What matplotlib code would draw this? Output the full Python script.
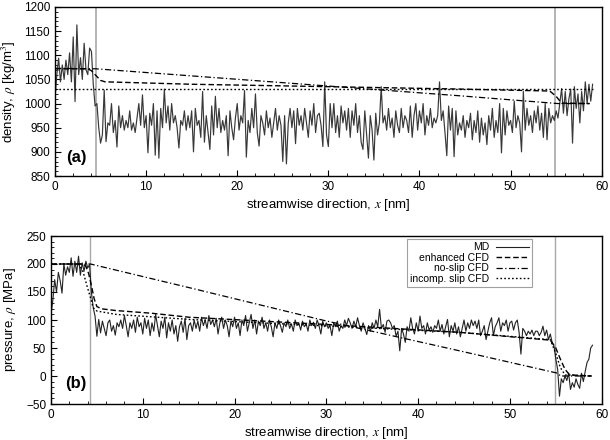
import numpy as np
import matplotlib
matplotlib.use("Agg")
from matplotlib import pyplot as plt
from matplotlib.ticker import MultipleLocator

plt.rcParams['font.family'] = ['Liberation Sans', 'DejaVu Sans']
plt.rcParams['mathtext.fontset'] = 'stix'

# MD samples, spacing 0.2 nm starting at x = 0
dx_md = 0.2
rho_md = [
    1010, 1060, 1094, 1045, 1080, 1050, 1090, 1060, 1105, 1045,
    1138, 1004, 1163, 1060, 1095, 1050, 1125, 1070, 1060, 1115,
    1108, 1040, 995, 1000, 950, 918, 935, 1028, 921, 960,
    955, 1000, 940, 965, 910, 995, 950, 975, 945, 965,
    950, 985, 945, 960, 940, 970, 1000, 955, 1018, 950,
    975, 898, 980, 955, 1000, 893, 985, 887, 990, 950,
    1030, 960, 995, 945, 1000, 960, 975, 950, 908, 965,
    955, 985, 945, 975, 950, 985, 900, 990, 955, 965,
    930, 1025, 920, 975, 940, 905, 995, 935, 1015, 950,
    990, 940, 965, 945, 975, 892, 985, 950, 925, 970,
    1000, 945, 975, 960, 1027, 889, 965, 940, 990, 950,
    1020, 940, 912, 975, 960, 935, 985, 950, 970, 930,
    960, 990, 945, 975, 955, 880, 975, 875, 960, 990,
    950, 985, 917, 990, 955, 975, 945, 990, 960, 930,
    985, 955, 1000, 940, 975, 980, 955, 911, 1045, 935,
    911, 1000, 950, 1000, 940, 975, 930, 995, 960, 985,
    945, 990, 930, 985, 955, 1000, 940, 975, 920, 905,
    985, 935, 887, 975, 945, 883, 980, 935, 960, 1035,
    960, 975, 945, 990, 950, 970, 930, 985, 955, 940,
    990, 950, 975, 965, 940, 995, 930, 975, 1000, 945,
    985, 960, 1000, 935, 975, 955, 990, 950, 970, 960,
    975, 1045, 965, 985, 940, 892, 995, 945, 990, 890,
    985, 935, 960, 945, 975, 930, 965, 950, 980, 925,
    965, 940, 985, 920, 970, 935, 960, 915, 975, 945,
    990, 930, 965, 940, 1000, 898, 990, 935, 985, 955,
    965, 940, 1005, 950, 975, 960, 900, 1025, 945, 990,
    955, 975, 940, 985, 960, 995, 945, 980, 930, 1000,
    925, 990, 960, 975, 965, 985, 970, 1000, 1031, 980,
    1025, 975, 1010, 1030, 918, 1035, 990, 1020, 960, 1025,
    985, 1045, 1000, 1040, 1005, 1040,
]
p_md = [
    110, 135, 172, 150, 185, 170, 148, 200, 180, 195,
    185, 211, 178, 205, 185, 214, 180, 202, 187, 205,
    193, 199, 150, 122, 107, 71, 101, 77, 98, 85,
    72, 95, 100, 80, 90, 73, 95, 88, 100, 85,
    108, 90, 70, 95, 85, 100, 78, 105, 88, 95,
    75, 103, 85, 100, 72, 95, 80, 110, 90, 70,
    98, 85, 105, 68, 95, 80, 100, 75, 90, 62,
    88, 98, 78, 103, 65, 90, 95, 80, 100, 85,
    98, 80, 105, 90, 100, 85, 108, 92, 100, 88,
    103, 75, 95, 105, 85, 100, 90, 70, 98, 88,
    105, 85, 95, 72, 100, 90, 108, 80, 95, 110,
    85, 100, 75, 98, 90, 105, 85, 95, 80, 100,
    88, 70, 95, 85, 100, 90, 78, 95, 88, 100,
    85, 93, 80, 100, 90, 95, 82, 98, 88, 93,
    80, 100, 90, 96, 85, 100, 90, 75, 98, 88,
    95, 85, 90, 72, 95, 88, 98, 80, 90, 85,
    100, 90, 103, 95, 85, 98, 88, 104, 90, 80,
    95, 85, 74, 90, 80, 95, 85, 100, 88, 119,
    85, 92, 78, 98, 100, 95, 85, 90, 71, 80,
    45, 85, 75, 60, 88, 80, 104, 85, 75, 95,
    80, 107, 85, 90, 75, 95, 82, 88, 78, 90,
    85, 100, 80, 92, 75, 88, 101, 70, 90, 80,
    95, 75, 88, 70, 85, 100, 80, 95, 85, 100,
    90, 98, 85, 100, 72, 80, 90, 65, 80, 95,
    104, 72, 88, 95, 104, 80, 95, 90, 100, 80,
    95, 98, 82, 95, 100, 78, 39, 85, 80, 72,
    80, 75, 82, 72, 80, 80, 72, 78, 89, 72,
    82, 65, 75, 60, 54, 30, 12, -36, -5, -12,
    0, -8, 5, -24, -12, -20, -5, -15, -22, 5,
    -10, 8, 24, 30, 50, 55,
]

# CFD curves (knots)
enh_x_a = [0, 3.6, 4.0, 4.5, 5.0, 5.5, 15, 30, 44.5, 54.3, 55.0, 55.6, 58.7]
enh_rho = [1072, 1072, 1068, 1058, 1048, 1045, 1040, 1035, 1030, 1026, 1015, 1001, 1000]
ns_x_a = [0, 4.5, 44.5, 55.2, 58.7]
ns_rho = [1073, 1072, 1016, 1000, 1000]
inc_x_a = [0, 59.0]
inc_rho = [1030, 1030]

enh_x_b = [0, 3.5, 3.8, 4.1, 4.4, 4.7, 5.0, 5.5, 7, 11, 15, 30, 44.5, 54.4, 55.0, 55.5, 56.0, 56.5, 58.9]
enh_p = [200, 200, 196, 183, 162, 138, 124, 120, 117, 112, 105, 92, 78, 64, 50, 30, 12, 2, 0]
ns_x_b = [0, 4.3, 15.5, 29.8, 44.5, 55.2, 55.5, 58.9]
ns_p = [200, 200, 156, 99, 45, 5, 0, 0]
inc_x_b = [0, 3.0, 3.5, 3.9, 4.3, 4.6, 5.0, 7.1, 15.1, 28, 44.5, 54.4, 55.0, 55.5, 56.0, 58.9]
inc_p = [200, 200, 186, 162, 140, 122, 116, 110, 101, 91, 78, 65, 40, 15, 2, 0]

inlet_a, outlet_a = 4.5, 54.9
inlet_b, outlet_b = 4.3, 54.9

x_md = np.arange(len(rho_md)) * dx_md

fig = plt.figure(figsize=(6.1, 4.4), dpi=100)
ax1 = fig.add_axes([55 / 610, 1 - 176 / 440, 546.7 / 610, 169 / 440])
ax2 = fig.add_axes([51 / 610, 1 - 404 / 440, 550.7 / 610, 168 / 440])

dash = (0, (4, 2))
dashdot = (0, (5, 2, 1, 2))
dots = (0, (1.2, 1.6))


def style(ax, ylo, yhi):
    ax.set_xlim(0, 60)
    ax.set_ylim(ylo, yhi)
    ax.xaxis.set_major_locator(MultipleLocator(10))
    ax.xaxis.set_minor_locator(MultipleLocator(2))
    ax.yaxis.set_major_locator(MultipleLocator(50))
    ax.yaxis.set_minor_locator(MultipleLocator(10))
    ax.tick_params(which='both', direction='in', labelsize=8.5, top=False, right=False)
    ax.tick_params(which='major', length=4.5, width=0.8)
    ax.tick_params(which='minor', length=2.5, width=0.6)
    for s in ax.spines.values():
        s.set_linewidth(1.0)
    ax.set_xlabel('streamwise direction, $x$ [nm]', fontsize=9.5, labelpad=3)


ax1.axvline(inlet_a, color='#a8a8a8', lw=1.2)
ax1.axvline(outlet_a, color='#a8a8a8', lw=1.2)
ax1.plot(x_md, rho_md, color='#383838', lw=0.85)
ax1.plot(enh_x_a, enh_rho, color='black', lw=1.0, linestyle=dash)
ax1.plot(ns_x_a, ns_rho, color='black', lw=0.9, linestyle=dashdot)
ax1.plot(inc_x_a, inc_rho, color='black', lw=1.0, linestyle=dots)
style(ax1, 850, 1200)
ax1.set_ylabel('density, $\\rho$ [kg/m$^3$]', fontsize=9.5)
ax1.yaxis.set_label_coords(-0.067, 0.5)
ax1.text(1.2, 880, '(a)', fontsize=12, fontweight='bold')

ax2.axvline(inlet_b, color='#a8a8a8', lw=1.0)
ax2.axvline(outlet_b, color='#a8a8a8', lw=1.0)
ax2.plot(x_md, p_md, color='#222222', lw=0.8, label='MD')
ax2.plot(enh_x_b, enh_p, color='black', lw=1.0, linestyle=dash, label='enhanced CFD')
ax2.plot(ns_x_b, ns_p, color='black', lw=0.9, linestyle=dashdot, label='no-slip CFD')
ax2.plot(inc_x_b, inc_p, color='black', lw=1.0, linestyle=dots, label='incomp. slip CFD')
style(ax2, -50, 250)
ax2.set_ylabel('pressure, $\\rho$ [MPa]', fontsize=9.5)
ax2.yaxis.set_label_coords(-0.060, 0.5)
ax2.text(1.5, -22, '(b)', fontsize=12, fontweight='bold')
leg = ax2.legend(loc='upper right', bbox_to_anchor=(0.8734, 0.982), fontsize=7.5,
                 markerfirst=False, fancybox=False, frameon=True, handlelength=3.2,
                 borderpad=0.3, labelspacing=0.05, handletextpad=0.6, borderaxespad=0)
leg.get_frame().set_edgecolor('#888888')
leg.get_frame().set_linewidth(0.8)
for t in leg.get_texts():
    t.set_ha('right')
leg._legend_box.align = 'right'

fig.savefig('out.png', dpi=100)
plt.close()
